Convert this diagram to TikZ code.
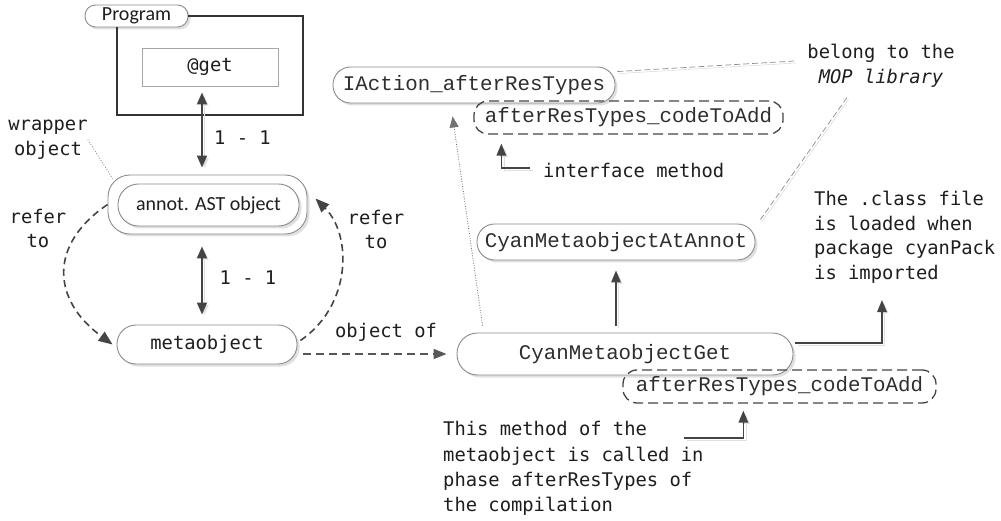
\documentclass[tikz,border=0pt]{standalone}
\usepackage{fontspec}
\setmainfont{Carlito}
\newfontfamily\codefont{Liberation Mono}
\newfontfamily\notefont{DejaVu Sans Mono}
\usetikzlibrary{arrows.meta,shadows,calc}

\definecolor{ink}{HTML}{1E1E1E}
\definecolor{codeink}{HTML}{2E2E2E}
\definecolor{linec}{HTML}{444444}
\definecolor{edgec}{HTML}{8C8C8C}

\tikzset{
  x=1pt, y=-1pt,
  shade/.style={drop shadow={shadow xshift=2.5pt, shadow yshift=-2.5pt, fill=black!12, opacity=1}},
  pill/.style={rectangle, draw=edgec, line width=0.9pt, fill=white, text=ink, inner sep=0pt, shade},
  dpill/.style={rectangle, draw=linec, line width=1.3pt, dash pattern=on 10pt off 5pt, text=ink, inner sep=0pt},
  codetxt/.style={font=\codefont\fontsize{20.8}{24}\selectfont, text=codeink},
  sanstxt/.style={font=\fontsize{20}{24}\selectfont},
  note/.style={font=\notefont\fontsize{18.8}{24.5}\selectfont, text=ink, inner sep=0pt},
  arrshadow/.style={preaction={draw=black!12, transform canvas={xshift=2.5pt,yshift=-2pt}}},
  arr/.style={draw=linec, line width=1.6pt, -{Triangle[length=12pt,width=9.5pt]}, arrshadow},
  biarr/.style={draw=linec, line width=1.8pt, {Triangle[length=12pt,width=10pt]}-{Triangle[length=12pt,width=10pt]}, arrshadow},
  dcurve/.style={draw=linec, line width=1.6pt, dash pattern=on 7pt off 4.5pt, -{Triangle[length=14pt,width=11pt]}},
  darr/.style={draw=linec!90, line width=1.6pt, dash pattern=on 8pt off 5pt, -{Triangle[length=13pt,width=10pt]}},
  dotarr/.style={draw=black!55, line width=0.8pt, dash pattern=on 0.9pt off 1.6pt, -{Triangle[length=11pt,width=9pt]}},
  dotline/.style={draw=black!50, line width=0.8pt, dash pattern=on 0.9pt off 1.8pt},
  hint/.style={draw=black!45, line width=0.7pt, dash pattern=on 6pt off 3pt,
    preaction={draw=black!18, transform canvas={xshift=1.5pt,yshift=-2pt}}},
  frame/.style={draw=black!80, line width=1.3pt},
}

\begin{document}
\begin{tikzpicture}
\useasboundingbox (0,0) rectangle (1001,521);

% ---- program part ----
\node[pill, sanstxt, rounded corners=10.5pt, minimum width=103pt, minimum height=22pt] (prog) at (136.5,16) {Program};
\coordinate (fbr) at (303,115);
\coordinate (fbl) at (117,115);
\draw[frame] (prog.east) -| (fbr) -| (fbl |- prog.south);
\node[draw=black!35, line width=0.9pt, minimum width=136pt, minimum height=38pt, inner sep=0pt, note] (get) at (210,67) {@get};

% ---- AST object and its metaobject ----
\node[pill, rounded corners=22pt, minimum width=199pt, minimum height=59pt] (wrap) at (207.5,204.5) {};
\node[pill, sanstxt, rounded corners=20.5pt, minimum width=181pt, minimum height=42pt] (annot) at (208.5,205) {annot. AST object};
\node[pill, note, rounded corners=19pt, minimum width=180pt, minimum height=39pt] (meta) at (207,344.5) {metaobject};

\node[note, align=center] (wtxt) at (48,139.5) {wrapper\\object};
\node[note, align=center] (rl) at (38,228.5) {refer\\to};
\node[note, align=center] (rr) at (376,229.5) {refer\\to};
\node[note] (one1) at (242.5,138) {1 - 1};
\node[note] (one2) at (248,278) {1 - 1};
\node[note] (objof) at (386,332) {object of};

% ---- metaobject classes ----
\node[pill, codetxt, rounded corners=17.5pt, minimum width=282pt, minimum height=36pt] (iact) at (474,85) {IAction\_afterResTypes};
\node[dpill, codetxt, rounded corners=14pt, minimum width=309pt, minimum height=33pt] (upper) at (628.5,117.5) {afterResTypes\_codeToAdd};
\node[pill, codetxt, rounded corners=17.5pt, minimum width=278pt, minimum height=36pt] (cat) at (616,242) {CyanMetaobjectAtAnnot};
\node[pill, codetxt, rounded corners=20.5pt, minimum width=336pt, minimum height=42pt] (cget) at (625,354) {CyanMetaobjectGet};
\node[dpill, codetxt, rounded corners=14pt, minimum width=313pt, minimum height=33pt] (lower) at (779.5,386.5) {afterResTypes\_codeToAdd};

\node[note, align=center] (mop) at (881,66) {belong to the\\\textit{MOP library}};
\node[note, anchor=west] (itxt) at (543,170) {interface method};
\node[note, align=left, anchor=west] (cls) at (814,237.5) {The .class file\\is loaded when\\package cyanPack\\is imported};
\node[note, align=left, anchor=west, font=\notefont\fontsize{18.8}{25.3}\selectfont] (mtxt) at (443,468.5) {This method of the\\metaobject is called in\\phase afterResTypes of\\the compilation};

% ---- connectors ----
\draw[biarr, shorten <=6pt, shorten >=7pt] ([xshift=-8pt]get.south) -- ([xshift=-5.5pt]wrap.north);
\draw[biarr, shorten <=12pt, shorten >=10pt] ([xshift=-5.5pt]wrap.south) -- ([xshift=-5pt]meta.north);

\draw[dcurve] (wrap.west) .. controls (48,245) and (52,300) .. ([xshift=-4pt]meta.west);
\draw[dcurve] ([shift={(3pt,4pt)}]meta.east) .. controls (352,305) and (352,235) .. ($(wrap.east)+(8,-6)$);

\draw[darr, shorten >=10pt] ($(meta.east |- cget.west)+(6,0)$) -- (cget.west);
\draw[arr, shorten <=7pt, shorten >=10pt] (cat.south |- cget.north) -- (cat.south);

\coordinate (clsarr) at (882,300);
\draw[arr] ($(cget.east)+(2,-11)$) -| (clsarr);

\coordinate (mtail) at (684,438);
\draw[arr] (mtail) -| ($(lower.south west)+(121,7)$);

\coordinate (itail) at (530,168);
\draw[arr] (itail) -| ($(upper.south west)+(28,9)$);

\draw[dotarr] ($(cget.north west)+(26,-7)$) -- ($(iact.south west)+(120,13)$);
\draw[dotline] (wtxt.east) -- ($(wrap.north west)+(5,4)$);

\draw[hint] ($(iact.north east)+(2,5)$) -- ($(mop.west)+(-12.5,-5)$);
\draw[hint] ($(mop.south)+(-34,10)$) -- ($(cat.north east)+(5,-4)$);
\end{tikzpicture}
\end{document}
